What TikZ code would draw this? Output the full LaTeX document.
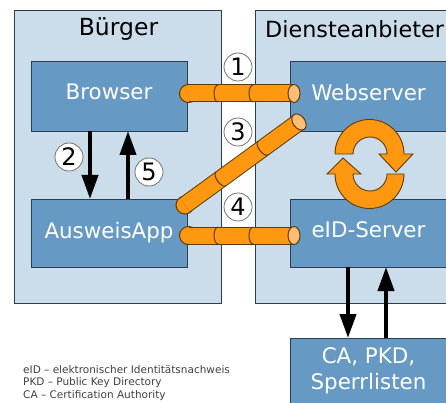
\documentclass[tikz,border=0pt]{standalone}
\usepackage{fontspec}
\setmainfont{DejaVu Sans}
\usetikzlibrary{arrows.meta,shapes.geometric}
\definecolor{panelblue}{HTML}{CBDDEA}
\definecolor{boxblue}{HTML}{6699C3}
\definecolor{edgeblue}{HTML}{2B3E50}
\definecolor{tubeorange}{HTML}{FF9811}
\definecolor{tubelight}{HTML}{FFBE73}
\definecolor{tubeedge}{HTML}{5E3A08}
\tikzset{
	panel/.style={draw=edgeblue, fill=panelblue, line width=0.8pt, inner sep=0pt, outer sep=0pt},
	titlenode/.style={font=\fontsize{23.5}{26}\selectfont, inner sep=0pt},
	boxnode/.style={draw=edgeblue, fill=boxblue, line width=0.9pt, text=white, minimum width=156pt, inner sep=0pt, outer sep=0pt, font=\fontsize{21.4}{26}\selectfont, align=center},
	stepnum/.style={circle, draw=black!55, fill=white, line width=0.8pt, minimum size=28pt, inner sep=0pt, font=\fontsize{24}{26}\selectfont},
	tube/.style={draw=tubeorange, line width=16pt, preaction={draw=tubeedge, line width=18pt}},
	tubestart/.style={circle, draw=tubeedge, fill=tubeorange, line width=1pt, minimum size=18pt, inner sep=0pt},
	tubeend/.style={ellipse, draw=tubeedge, fill=tubelight, line width=1pt, minimum width=12pt, minimum height=18pt, inner sep=0pt},
	sendarrow/.style={line width=4pt, -{Triangle[width=16pt,length=24pt]}},
	syncarrow/.style={draw=tubeedge, fill=tubeorange, line width=0.9pt, line join=miter},
	tubering/.pic={\draw[tubeedge, line width=1pt] (0,8.5) arc (90:270:4 and 8.5);}
}
\begin{document}
\begin{tikzpicture}[x=1pt,y=1pt]
	\useasboundingbox (0,-403) rectangle (446,0);

	\node[panel, minimum width=207pt, minimum height=293pt] at (117.5,-156.5) (buerger) {};
	\node[panel, minimum width=200pt, minimum height=293pt, anchor=west] at (255,-156.5) (dienst) {};
	\node[titlenode] at (118.5,-29) (buergertitle) {Bürger};
	\node[titlenode, font=\fontsize{22.3}{26}\selectfont, anchor=west] at (265,-29) (diensttitle) {Diensteanbieter};

	\node[boxnode, minimum height=70pt, text depth=8pt] at (109,-96) (browser) {Browser};
	\node[boxnode, minimum height=68pt, text depth=6pt] at (109,-233) (ausweis) {AusweisApp};
	\node[boxnode, minimum height=70pt, text depth=8pt] at (368.5,-96) (web) {Webserver};
	\node[boxnode, minimum height=68pt, text depth=6pt] at (368.5,-233) (eid) {eID-Server};
	\node[boxnode, minimum height=66pt, anchor=north] at (368.5,-338) (ca) {CA, PKD,\\Sperrlisten};

	% Pfeile
	\draw[sendarrow] ([xshift=-19pt]browser.south) -- ([xshift=-19pt]ausweis.north);
	\draw[sendarrow] ([xshift=19pt]ausweis.north) -- ([xshift=19pt]browser.south);
	\draw[sendarrow] ([xshift=-20.5pt]eid.south) -- ([xshift=-20.5pt]ca.north);
	\draw[sendarrow] ([xshift=17.5pt]ca.north) -- ([xshift=17.5pt]eid.south);

	% Roehren
	\node[tubestart] at (188.5,-93.5) (t1a) {};
	\coordinate (t1c) at (294,-93.5);
	\draw[tube] (t1a.center) -- (t1c);
	\node[tubeend] at (t1c) (t1b) {};
	\pic at (218,-93.5) {tubering};
	\pic at (253,-93.5) {tubering};

	\node[tubestart] at (185,-205) (t3a) {};
	\coordinate (t3c) at (299,-122);
	\draw[tube] (t3a.center) -- (t3c);
	\node[tubeend, rotate=36] at (t3c) (t3b) {};
	\pic[rotate=36] at (221,-179) {tubering};
	\pic[rotate=36] at (263,-148) {tubering};

	\node[tubestart] at (188.5,-235.5) (t4a) {};
	\coordinate (t4c) at (294,-235.5);
	\draw[tube] (t4a.center) -- (t4c);
	\node[tubeend] at (t4c) (t4b) {};
	\pic at (218,-235.5) {tubering};
	\pic at (253,-235.5) {tubering};

	% Kreislauf
	\path[syncarrow] (335,-154) arc (180:0:34.5) -- (413,-154) -- (396,-172) -- (379,-154) -- (387,-154) arc (0:180:17) -- cycle;
	\path[syncarrow] (404,-174) arc (0:-180:34.5) -- (327,-174) -- (343,-158) -- (361,-174) -- (353,-174) arc (180:360:17) -- cycle;

	\node[stepnum] at (238,-67) (s1) {1};
	\node[stepnum] at (69,-157) (s2) {2};
	\node[stepnum] at (238,-132) (s3) {3};
	\node[stepnum] at (149,-172) (s5) {5};
	\node[stepnum] at (238,-207) (s4) {4};

	\node[anchor=north west, font=\fontsize{10.5}{12.5}\selectfont, align=left, text=black!75, inner sep=0pt] at (23,-365) (legend) {eID – elektronischer Identitätsnachweis\\PKD – Public Key Directory\\CA – Certification Authority};
\end{tikzpicture}
\end{document}
